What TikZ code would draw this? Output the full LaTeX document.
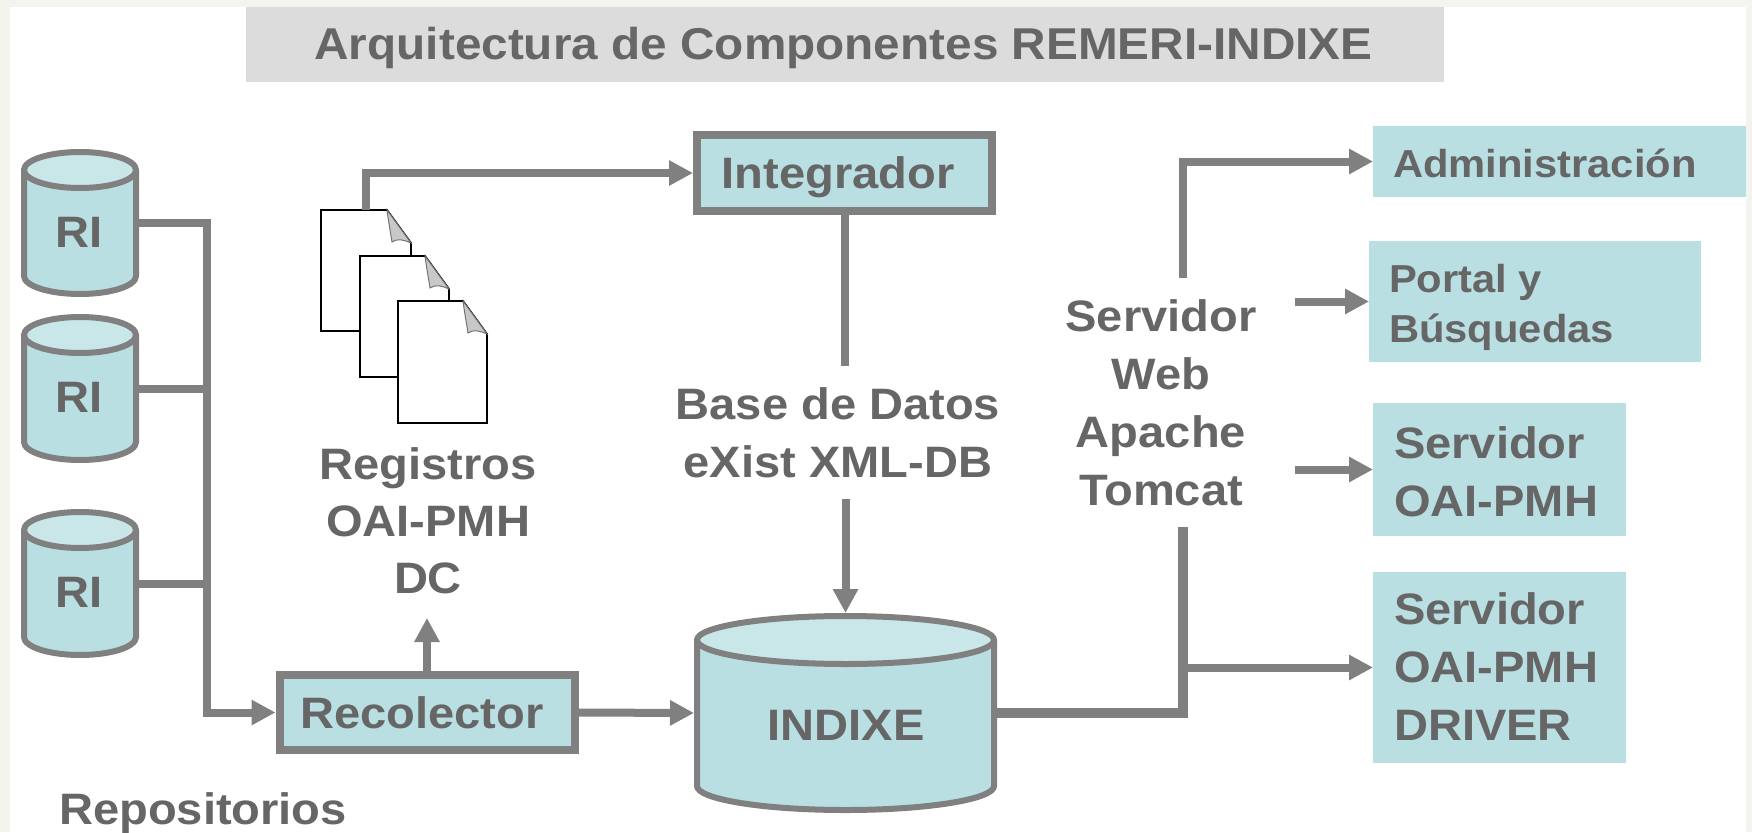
\documentclass[tikz,border=0pt]{standalone}
\usepackage{fontspec}
\setmainfont[FakeStretch=1.07]{Liberation Sans}
\usetikzlibrary{arrows.meta}
\definecolor{pagebg}{HTML}{F4F4EE}
\definecolor{titlebg}{HTML}{DCDCDC}
\definecolor{inktext}{HTML}{666666}
\definecolor{inkline}{HTML}{808080}
\definecolor{teal}{HTML}{B9DFE3}
\definecolor{tealtop}{HTML}{C9E6E9}
\definecolor{foldgray}{HTML}{C8C8C8}
\tikzset{
  txt/.style={font=\bfseries\fontsize{44}{58}\selectfont,text=inktext,inner sep=0pt,outer sep=0pt,anchor=base,align=center},
  txtl/.style={txt,align=left,anchor=base west},
  txts/.style={font=\bfseries\fontsize{39}{50}\selectfont,text=inktext,inner sep=0pt,outer sep=0pt,anchor=base west,align=left},
  framed/.style={draw=inkline,fill=teal,line width=8pt,inner sep=0pt,outer sep=4pt},
  plainbox/.style={fill=teal,inner sep=0pt,outer sep=0pt},
  cylbase/.style={inner sep=0pt,outer sep=0pt},
  conn/.style={draw=inkline,line width=8pt},
  tip/.style={-{Triangle[length=24pt,width=24pt]}}
}
% name, cx, top, bottom, rx, ry, line width (outer extents for top/bottom)
\newcommand{\dbcyl}[7]{%
  \fill[teal] ({#2-#5},{#3+#6}) -- ({#2-#5},{#4-#6}) arc[start angle=180,end angle=0,x radius=#5,y radius=#6] -- ({#2+#5},{#3+#6}) -- cycle;
  \draw[inkline,line width=#7pt] ({#2-#5},{#3+#6}) -- ({#2-#5},{#4-#6}) arc[start angle=180,end angle=0,x radius=#5,y radius=#6] -- ({#2+#5},{#3+#6});
  \draw[inkline,fill=tealtop,line width=#7pt] (#2,{#3+#6}) ellipse[x radius=#5,y radius=#6];
  \node[cylbase,minimum width={2*#5pt+#7pt},minimum height={(#4-#3)*1pt+#7pt}] (#1) at (#2,{(#3+#4)/2}) {};
}
% name, left, top, right, bottom
\newcommand{\docsheet}[5]{%
  \draw[black,fill=white,line width=1.8pt,line join=miter] (#2,#3) -- ({#4-24},#3) -- (#4,{#3+33}) -- (#4,#5) -- (#2,#5) -- cycle;
  \draw[black!55,fill=foldgray,line width=1pt] ({#4-24},#3) .. controls ({#4-22},{#3+15}) and ({#4-20},{#3+25}) .. ({#4-19},{#3+32}) .. controls ({#4-14},{#3+28}) and ({#4-6},{#3+30}) .. (#4,{#3+33}) -- cycle;
  \node[cylbase,minimum width={(#4-#2)*1pt},minimum height={(#5-#3)*1pt}] (#1) at ({(#2+#4)/2},{(#3+#5)/2}) {};
}
\begin{document}
\begin{tikzpicture}[x=1pt,y=-1pt]
\useasboundingbox (0,0) rectangle (1752,832);
\fill[pagebg] (0,0) rectangle (1752,832);
\fill[white] (10,7) rectangle (1746,832);

% title
\node[fill=titlebg,inner sep=0pt,outer sep=0pt,minimum width=1198pt,minimum height=75pt] (titlebar) at (845,44.5) {};
\node[txt,font=\bfseries\fontsize{44.6}{58}\selectfont] (titletext) at (843.5,60) {Arquitectura de Componentes REMERI-INDIXE};

% repositories
\dbcyl{ri1}{80}{152}{294}{56}{18}{6}
\dbcyl{ri2}{80}{317}{460}{56}{18}{6}
\dbcyl{ri3}{80}{512}{655}{56}{18}{6}
\node[txt] (ri1t) at (79,247) {RI};
\node[txt] (ri2t) at (79,412) {RI};
\node[txt] (ri3t) at (79,607) {RI};
\node[txt] (repos) at (203,824) {Repositorios};

% central boxes
\node[framed,minimum width=295pt,minimum height=75pt] (recolector) at (427,712.5) {};
\node[txt] (recolectort) at (422,728) {Recolector};
\node[framed,minimum width=295pt,minimum height=76pt] (integrador) at (844.5,173) {};
\node[txt] (integradort) at (838,188) {Integrador};
\dbcyl{indixe}{845.5}{616}{810}{148.5}{24}{6}
\node[txt] (indixet) at (846,740) {INDIXE};

% documents
\docsheet{doc1}{321}{210}{411}{331}
\docsheet{doc2}{360}{256}{449}{377}
\docsheet{doc3}{398}{301}{487}{423}

% labels
\node[txt,font=\bfseries\fontsize{44}{57}\selectfont] (registros) at (428,593) {Registros\\OAI-PMH\\DC};
\node[txt] (basedatos) at (838,477) {Base de Datos\\eXist XML-DB};
\node[txt] (webserver) at (1161,505) {Servidor\\Web\\Apache\\Tomcat};

% right boxes
\node[plainbox,minimum width=373pt,minimum height=71pt] (admin) at (1559.5,161.5) {};
\node[plainbox,minimum width=332pt,minimum height=121pt] (portal) at (1535,301.5) {};
\node[plainbox,minimum width=253pt,minimum height=133pt] (oai) at (1499.5,469.5) {};
\node[plainbox,minimum width=253pt,minimum height=191pt] (driver) at (1499.5,667.5) {};
\node[txts] (admint) at (1393,177) {Administración};
\node[txts] (portalt) at (1389,342) {Portal y\\Búsquedas};
\node[txtl] (oait) at (1394,516) {Servidor\\OAI-PMH};
\node[txtl] (drivert) at (1394,740) {Servidor\\OAI-PMH\\DRIVER};

% free connector ends
\coordinate (trunktop) at (207,223);
\coordinate (trunkbot) at (207,712.5);
\coordinate (integradorend) at (844.5,366);
\coordinate (basestart) at (845.5,499);
\coordinate (recolup) at (427,618);
\coordinate (webbot) at (1183,527);
\coordinate (webtop) at (1183,278);
\coordinate (webbranch) at (1183,667.5);
\coordinate (webportal) at (1295,301.5);
\coordinate (weboai) at (1295,469.5);
\coordinate (docturn) at (366,173);

% connectors
\draw[conn,tip] (ri1.east) -- (trunktop) -- (trunkbot) -- (recolector.west);
\draw[conn] (ri2.east) -- (ri2.east -| trunktop);
\draw[conn] (ri3.east) -- (ri3.east -| trunktop);
\draw[conn,tip] (recolector.north) -- (recolup);
\draw[conn,tip] (recolector.east) -- (indixe.west);
\draw[conn,tip] (doc1.north) -- (docturn) -- (integrador.west);
\draw[conn] (integrador.south) -- (integradorend);
\draw[conn,tip] (basestart) -- (indixe.north);
\draw[draw=inkline,line width=9.5pt] (indixe.east) -| (webbot);
\draw[conn,tip] (webbranch) -- (driver.west);
\draw[conn,tip] (webtop) |- (admin.west);
\draw[conn,tip] (webportal) -- (portal.west);
\draw[conn,tip] (weboai) -- (oai.west);
\end{tikzpicture}
\end{document}
